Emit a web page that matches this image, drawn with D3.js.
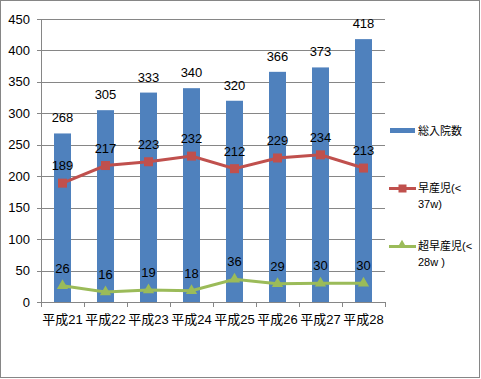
<!DOCTYPE html>
<html><head><meta charset="utf-8">
<script src="https://cdn.jsdelivr.net/npm/d3@7/dist/d3.min.js"></script>
<style>body{margin:0;background:#fff}svg{display:block}</style>
</head><body>
<svg id="c" width="481" height="379"></svg>
<script>
const categories = ["平成21","平成22","平成23","平成24","平成25","平成26","平成27","平成28"];
const totalAdmissions = [268,305,333,340,320,366,373,418];
const preterm = [189,217,223,232,212,229,234,213];
const veryPreterm = [26,16,19,18,36,29,30,30];
const yTicks = [0,50,100,150,200,250,300,350,400,450];
const legendLabels = [["総入院数"],["早産児(<","37w)"],["超早産児(<","28w )"]];

const svg = d3.select("#c");
const FONT = "'Liberation Sans','Noto Sans CJK JP',sans-serif";
const blue="#4F81BD", red="#C0504D", green="#9BBB59", grid="#868686";

svg.append("rect").attr("x",0.5).attr("y",0.5).attr("width",479).attr("height",377)
  .attr("fill","#fff").attr("stroke","#868686").attr("stroke-width",1);

const x = d3.scaleBand().domain(categories).range([41,385]);
const y = d3.scaleLinear().domain([0,450]).range([302,19]);

// gridlines
svg.append("g").selectAll("line").data(yTicks).join("line")
  .attr("x1",37).attr("x2",385)
  .attr("y1",d=>Math.round(y(d))+0.5).attr("y2",d=>Math.round(y(d))+0.5)
  .attr("stroke",grid).attr("stroke-width",1);
// y axis line
svg.append("line").attr("x1",41.5).attr("x2",41.5).attr("y1",19).attr("y2",302).attr("stroke",grid);
// y labels
svg.append("g").selectAll("text").data(yTicks).join("text")
  .attr("x",30).attr("y",d=>y(d)).attr("dy","0.35em").attr("text-anchor","end")
  .attr("font-family",FONT).attr("font-size",13).text(d=>d);

// x ticks
const bounds = categories.map(c=>x(c)).concat([x.range()[1]]);
svg.append("g").selectAll("line").data(bounds).join("line")
  .attr("x1",d=>Math.round(d)+0.5).attr("x2",d=>Math.round(d)+0.5)
  .attr("y1",302).attr("y2",307).attr("stroke",grid);

// bars
const bw = 17;
svg.append("g").selectAll("rect").data(totalAdmissions).join("rect")
  .attr("x",(d,i)=>x(categories[i])+x.bandwidth()/2-bw/2)
  .attr("y",d=>y(d)).attr("width",bw).attr("height",d=>y(0)-y(d)).attr("fill",blue);
svg.append("g").selectAll("text").data(totalAdmissions).join("text")
  .attr("x",(d,i)=>x(categories[i])+x.bandwidth()/2).attr("y",d=>y(d)-11)
  .attr("text-anchor","middle").attr("font-family",FONT).attr("font-size",13).text(d=>d);

// x labels
svg.append("g").selectAll("text").data(categories).join("text")
  .attr("x",d=>x(d)+x.bandwidth()/2).attr("y",324)
  .attr("text-anchor","middle").attr("font-family",FONT).attr("font-size",13).text(d=>d);

const cx = (d,i)=>x(categories[i])+x.bandwidth()/2;
const line = d3.line().x(cx).y(d=>y(d));
// red
svg.append("path").datum(preterm).attr("d",line).attr("fill","none").attr("stroke",red).attr("stroke-width",3);
svg.append("g").selectAll("rect").data(preterm).join("rect")
  .attr("x",(d,i)=>cx(d,i)-4.5).attr("y",d=>y(d)-4.5).attr("width",9).attr("height",9).attr("fill",red);
svg.append("g").selectAll("text").data(preterm).join("text")
  .attr("x",cx).attr("y",d=>y(d)-13).attr("text-anchor","middle")
  .attr("font-family",FONT).attr("font-size",13).text(d=>d);
// green
svg.append("path").datum(veryPreterm).attr("d",line).attr("fill","none").attr("stroke",green).attr("stroke-width",3);
const tri = d3.symbol().type(d3.symbolTriangle).size(55);
svg.append("g").selectAll("path").data(veryPreterm).join("path")
  .attr("d",tri).attr("transform",(d,i)=>`translate(${cx(d,i)},${y(d)})`).attr("fill",green);
svg.append("g").selectAll("text").data(veryPreterm).join("text")
  .attr("x",cx).attr("y",d=>y(d)-13).attr("text-anchor","middle")
  .attr("font-family",FONT).attr("font-size",13).text(d=>d);

// legend
const lg = svg.append("g");
lg.append("rect").attr("x",390).attr("y",128).attr("width",25).attr("height",5).attr("fill",blue);
lg.append("line").attr("x1",389).attr("x2",416).attr("y1",188.5).attr("y2",188.5).attr("stroke",red).attr("stroke-width",3);
lg.append("rect").attr("x",398.5).attr("y",184.5).attr("width",8).attr("height",8).attr("fill",red);
lg.append("line").attr("x1",389).attr("x2",416).attr("y1",246.5).attr("y2",246.5).attr("stroke",green).attr("stroke-width",3);
lg.append("path").attr("d",d3.symbol().type(d3.symbolTriangle).size(35)).attr("transform","translate(402,245)").attr("fill",green);
const legY = [[131],[188,204],[246,262]];
legendLabels.forEach((lines,i)=>{
  lines.forEach((t,j)=>{
    lg.append("text").attr("x",418).attr("y",legY[i][j]).attr("dy","0.35em")
      .attr("font-family",FONT).attr("font-size",11).text(t);
  });
});
</script>
</body></html>
